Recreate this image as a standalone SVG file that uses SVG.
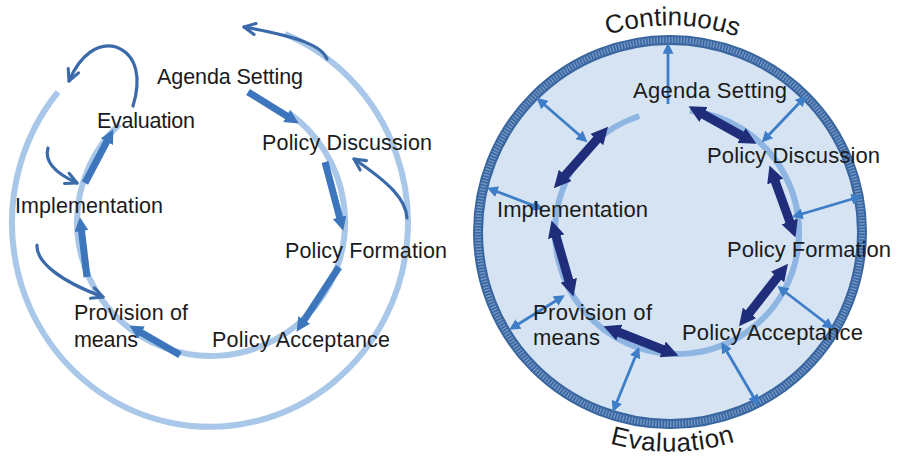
<svg xmlns="http://www.w3.org/2000/svg" width="898" height="461" viewBox="0 0 898 461">
  <defs>
    <style>
      .lbl { font-family: "Liberation Sans", Arial, sans-serif; font-size: 21.5px; fill: #1b1b1b; }
      .lblR { font-family: "Liberation Sans", Arial, sans-serif; font-size: 22px; fill: #1b1b1b; }
      .arcTxt { font-family: "Liberation Sans", Arial, sans-serif; font-size: 26px; fill: #1b1b1b; }
      .light { fill: none; stroke: #a9c7e8; stroke-width: 6; }
      .thick { fill: none; stroke: #3d76bc; stroke-width: 7; marker-end: url(#blueHead); }
      .curl { fill: none; stroke: #3a6aa9; stroke-width: 3.2; stroke-linecap: round; marker-end: url(#openHead); }
      .navy { stroke: #1f2d7b; stroke-width: 9; marker-start: url(#navyHead); marker-end: url(#navyHead); }
      .spoke { stroke: #3e7dc7; stroke-width: 2.8; marker-start: url(#spokeHead); marker-end: url(#spokeHead); }
    </style>
    <marker id="blueHead" viewBox="0 0 10 10" refX="2" refY="5" markerWidth="14" markerHeight="14" markerUnits="userSpaceOnUse" orient="auto">
      <path d="M0,0 L10,5 L0,10 z" fill="#3d76bc"/>
    </marker>
    <marker id="navyHead" viewBox="0 0 10 10" refX="2" refY="5" markerWidth="17" markerHeight="17" markerUnits="userSpaceOnUse" orient="auto-start-reverse">
      <path d="M0,0 L10,5 L0,10 z" fill="#1f2d7b"/>
    </marker>
    <marker id="spokeHead" viewBox="0 0 10 10" refX="7" refY="5" markerWidth="11" markerHeight="11" markerUnits="userSpaceOnUse" orient="auto-start-reverse">
      <path d="M0,0 L10,5 L0,10 z" fill="#3e7dc7"/>
    </marker>
    <marker id="openHead" viewBox="0 0 10 10" refX="9" refY="5" markerWidth="14" markerHeight="14" markerUnits="userSpaceOnUse" orient="auto" overflow="visible">
      <path d="M1,1 L9,5 L1,9" fill="none" stroke="#3a6aa9" stroke-width="2.2" stroke-linecap="round" stroke-linejoin="round"/>
    </marker>
    <!-- baselines for the curved captions round the right-hand circle -->
    <path id="topArc" d="M551,63 A207,207 0 0 1 789,63"/>
    <path id="bottomArc" d="M544,412 A220,220 0 0 0 796,412"/>
  </defs>

  <rect width="898" height="461" fill="#ffffff"/>

  <!-- ===== Left: policy cycle ===== -->
  <g id="left-cycle">
    <path class="light" d="M285,34 A198,204 0 1 1 58,92"/>
    <path class="light" d="M287.9,112.2 A134,134 0 1 1 119.6,124"/>
  </g>

  <g id="left-connectors">
    <line class="thick" x1="248" y1="92" x2="289.2" y2="117.5"/>
    <line class="thick" x1="325" y1="162" x2="340.3" y2="219.9"/>
    <line class="thick" x1="339" y1="267" x2="302.7" y2="322.3"/>
    <line class="thick" x1="180" y1="355" x2="139" y2="331.2"/>
    <line class="thick" x1="87" y1="277" x2="81.2" y2="228.3"/>
    <line class="thick" x1="85" y1="183" x2="108.1" y2="139.2"/>

    <path class="curl" d="M133,106 C141,80 138,55 116,47 C98,42 80,55 69,81"/>
    <path class="curl" d="M327,59 C322,46 300,37 244,27"/>
    <path class="curl" d="M407,218 C406,200 391,184 354,159"/>
    <path class="curl" d="M48,148 C44,162 55,173 77,183"/>
    <path class="curl" d="M37,245 C36,262 60,281 103,297"/>
  </g>

  <g id="l-agenda"><text class="lbl" x="157" y="84" textLength="146">Agenda Setting</text></g>
  <g id="l-evaluation"><text class="lbl" x="97" y="128" textLength="98">Evaluation</text></g>
  <g id="l-discussion"><text class="lbl" x="262" y="150" textLength="170">Policy Discussion</text></g>
  <g id="l-implementation"><text class="lbl" x="15" y="213" textLength="148">Implementation</text></g>
  <g id="l-formation"><text class="lbl" x="285" y="258" textLength="162">Policy Formation</text></g>
  <g id="l-provision">
    <text class="lbl" x="74" y="320" textLength="114">Provision of</text>
    <text class="lbl" x="74" y="347" textLength="64">means</text>
  </g>
  <g id="l-acceptance"><text class="lbl" x="212" y="347" textLength="178">Policy Acceptance</text></g>

  <!-- ===== Right: continuous evaluation ===== -->
  <g id="right-disc">
    <circle cx="670" cy="232" r="193" fill="#d5e3f2"/>
    <circle cx="670" cy="232" r="192" fill="none" stroke="#3a66a0" stroke-width="10"/>
    <circle cx="670" cy="232" r="192" fill="none" stroke="#7397c6" stroke-width="6" stroke-dasharray="1.4 1.6"/>
    <path d="M689.8,110.7 A122,122 0 1 1 639.3,116" fill="none" stroke="#8fb5e3" stroke-width="6"/>
  </g>

  <g id="right-connectors">
    <line class="navy" x1="700.5" y1="112.8" x2="744.5" y2="137.2"/>
    <line class="navy" x1="774.1" y1="178.3" x2="790.9" y2="224.7"/>
    <line class="navy" x1="779.6" y1="274.4" x2="747.4" y2="315.6"/>
    <line class="navy" x1="665.8" y1="350.7" x2="616.2" y2="331.3"/>
    <line class="navy" x1="569.7" y1="283.5" x2="555.3" y2="233.5"/>
    <line class="navy" x1="562.9" y1="178" x2="599.1" y2="137"/>

    <line x1="668" y1="104" x2="668" y2="46" stroke="#3e7dc7" stroke-width="2.8" marker-end="url(#spokeHead)"/>
    <line class="spoke" x1="585" y1="140" x2="539" y2="100"/>
    <line class="spoke" x1="540" y1="208" x2="490" y2="189"/>
    <line class="spoke" x1="764" y1="140" x2="804" y2="98"/>
    <line class="spoke" x1="795" y1="216" x2="859" y2="197"/>
    <line class="spoke" x1="780" y1="288" x2="831" y2="327"/>
    <line class="spoke" x1="723" y1="345" x2="757" y2="403"/>
    <line class="spoke" x1="638" y1="350" x2="614" y2="409"/>
    <line class="spoke" x1="562" y1="297" x2="512" y2="328"/>
  </g>

  <g id="r-continuous">
    <text class="arcTxt"><textPath href="#topArc" startOffset="51%" text-anchor="middle">Continuous</textPath></text>
  </g>
  <g id="r-evaluation">
    <text class="arcTxt" letter-spacing="0.6"><textPath href="#bottomArc" startOffset="51%" text-anchor="middle">Evaluation</textPath></text>
  </g>

  <g id="r-agenda"><text class="lblR" x="633" y="98" textLength="154">Agenda Setting</text></g>
  <g id="r-discussion"><text class="lblR" x="707" y="163" textLength="173">Policy Discussion</text></g>
  <g id="r-implementation"><text class="lblR" x="497" y="217" textLength="151">Implementation</text></g>
  <g id="r-formation"><text class="lblR" x="727" y="257" textLength="164">Policy Formation</text></g>
  <g id="r-provision">
    <text class="lblR" x="533" y="320" textLength="119">Provision of</text>
    <text class="lblR" x="533" y="345" textLength="67">means</text>
  </g>
  <g id="r-acceptance"><text class="lblR" x="682" y="340" textLength="181">Policy Acceptance</text></g>
</svg>
